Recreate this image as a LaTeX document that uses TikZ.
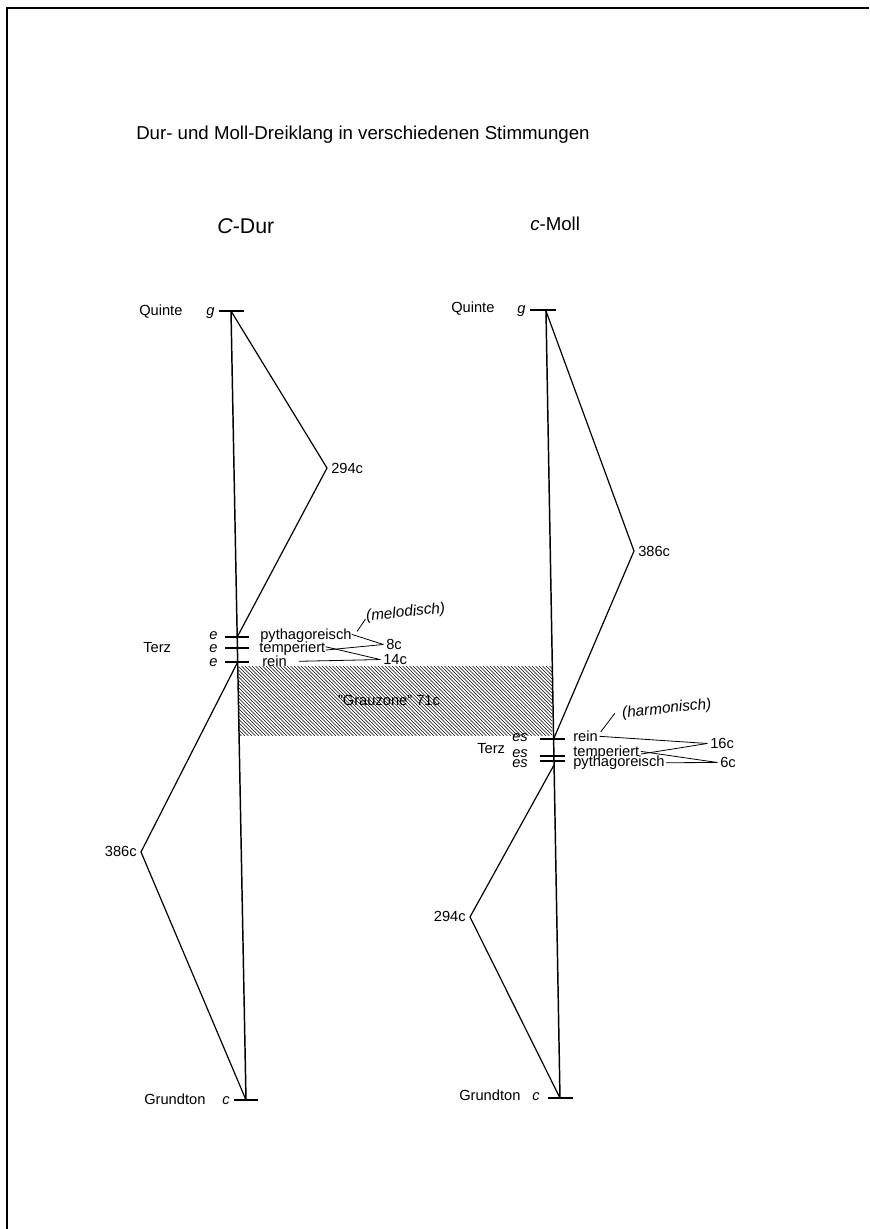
\documentclass[tikz,border=0pt]{standalone}
\usepackage{fontspec}
\setmainfont{Liberation Sans}
\begin{document}
\begin{tikzpicture}[x=0.75pt,y=-0.75pt,
  lbl/.style={font=\fontsize{11}{13}\selectfont, inner sep=0pt},
  ilbl/.style={font=\fontsize{11}{13}\selectfont\itshape, inner sep=0pt},
  note/.style={font=\fontsize{11.5}{13}\selectfont\itshape, inner sep=0pt},
  head/.style={font=\fontsize{14}{16}\selectfont, inner sep=0pt},
  tickline/.style={line width=0.8pt},
  axis/.style={line width=1.1pt},
  zz/.style={line width=0.9pt},
  conn/.style={line width=0.6pt},
  hatch/.style={line width=0.5pt}]
\useasboundingbox (0,0) rectangle (869,1229);
\fill[white] (0,0) rectangle (869,1229);
\draw[line width=1.5pt] (7,1229) -- (7,8) -- (869,8);

% title and headings
\node[head, anchor=base west] (title) at (136,139) {Dur- und Moll-Dreiklang in verschiedenen Stimmungen};
\node[head, font=\fontsize{16}{18}\selectfont, anchor=base west] (cdur) at (217,233) {\textit{C}-Dur};
\node[head, anchor=base west] (cmoll) at (530,230) {\textit{c}-Moll};

% ---------- C-Dur ----------
\coordinate (g1) at (231,311);
\coordinate (c1) at (246,1100);
\coordinate (v294a) at (327,468);
\coordinate (v386a) at (141,852);
\coordinate (ep1) at (237.2,637);
\coordinate (er1) at (237.7,662);

% hatched Grauzone
\begin{scope}
\clip (238.5,666) rectangle (552,735);
\foreach \i in {0,...,110} \draw[hatch] (168+\i*3.5,666) -- ++(70,70);
\end{scope}
\node[lbl] (gz) at (389,700) {"Grauzone" 71c};

\draw[axis] (g1) -- (c1);
\draw[tickline] (219,311) -- (244,311);
\draw[tickline] (234,1100) -- (258,1100);
\draw[tickline] (225,637) -- (249,637);
\draw[tickline] (225,648) -- (249,648);
\draw[tickline] (225,662) -- (249,662);
\draw[zz] (g1) -- (v294a) -- (ep1);
\draw[zz] (er1) -- (v386a) -- (c1);

\node[lbl, anchor=mid west] (q1) at (139,312) {Quinte};
\node[ilbl, anchor=mid west] (gl1) at (206,312) {g};
\node[lbl, anchor=mid west] (gr1) at (144,1101) {Grundton};
\node[ilbl, anchor=mid west] (cl1) at (222,1101) {c};
\node[lbl, anchor=mid west] (l294a) at (331,470) {294c};
\node[lbl, anchor=mid east] (l386a) at (137,853) {386c};

\node[lbl, anchor=mid west] (terz1) at (143,649) {Terz};
\node[ilbl, anchor=mid west] (e1) at (209,636) {e};
\node[ilbl, anchor=mid west] (e2) at (209,649) {e};
\node[ilbl, anchor=mid west] (e3) at (209,663) {e};
\node[lbl, anchor=mid west] (p1) at (260,636) {pythagoreisch};
\node[lbl, anchor=mid west] (t1) at (259,649) {temperiert};
\node[lbl, anchor=mid west] (r1) at (262,663) {rein};
\node[lbl, anchor=mid west] (d8) at (386,646) {8c};
\node[lbl, anchor=mid west] (d14) at (383,661) {14c};
\draw[conn] ([yshift=1]p1.east) -- ([xshift=-2]d8.west);
\draw[conn] ([yshift=-1]t1.east) -- ([xshift=-2]d8.west);
\draw[conn] ([yshift=1.5]t1.east) -- ([xshift=-2]d14.west);
\draw[conn] ([xshift=9]r1.east) -- ([xshift=-2]d14.west);
\node[note, rotate=6, anchor=west] (mel) at (366,617) {(melodisch)};
\draw[conn] ([xshift=4,yshift=-2]p1.north east) -- ([xshift=-1,yshift=4]mel.south west);

% ---------- c-Moll ----------
\coordinate (g2) at (546,311);
\coordinate (c2) at (560,1098);
\coordinate (v386b) at (634,551);
\coordinate (v294b) at (470,917);
\coordinate (er2) at (553.6,739);
\coordinate (ep2) at (554,765);

\draw[axis] (g2) -- (c2);
\draw[tickline] (530,310) -- (556,310);
\draw[tickline] (548,1098) -- (573,1098);
\draw[tickline] (540,739) -- (565,739);
\draw[tickline] (540,756) -- (565,756);
\draw[tickline] (540,761) -- (565,761);
\draw[zz] (g2) -- (v386b) -- (er2);
\draw[zz] (ep2) -- (v294b) -- (c2);

\node[lbl, anchor=mid west] (q2) at (451,309) {Quinte};
\node[ilbl, anchor=mid west] (gl2) at (517,310) {g};
\node[lbl, anchor=mid west] (gr2) at (459,1097) {Grundton};
\node[ilbl, anchor=mid west] (cl2) at (532,1097) {c};
\node[lbl, anchor=mid west] (l386b) at (638,553) {386c};
\node[lbl, anchor=mid east] (l294b) at (466,918) {294c};

\node[lbl, anchor=mid west] (terz2) at (477,750) {Terz};
\node[ilbl, anchor=mid west] (es1) at (512,738) {es};
\node[ilbl, anchor=mid west] (es2) at (512,754) {es};
\node[ilbl, anchor=mid west] (es3) at (512,764) {es};
\node[lbl, anchor=mid west] (r2) at (573,738) {rein};
\node[lbl, anchor=mid west] (t2) at (573,753) {temperiert};
\node[lbl, anchor=mid west] (p2) at (573,763) {pythagoreisch};
\node[lbl, anchor=mid west] (d16) at (710,745) {16c};
\node[lbl, anchor=mid west] (d6) at (720,764) {6c};
\draw[conn] ([xshift=1]r2.east) -- ([xshift=-2]d16.west);
\draw[conn] ([xshift=1,yshift=-1]t2.east) -- ([xshift=-2]d16.west);
\draw[conn] ([xshift=1,yshift=1]t2.east) -- ([xshift=-2]d6.west);
\draw[conn] ([xshift=1]p2.east) -- ([xshift=-2]d6.west);
\node[note, rotate=6, anchor=west] (harm) at (622,714) {(harmonisch)};
\draw[conn] ([xshift=2,yshift=-1]r2.north east) -- ([xshift=-6,yshift=6]harm.south west);
\end{tikzpicture}
\end{document}
